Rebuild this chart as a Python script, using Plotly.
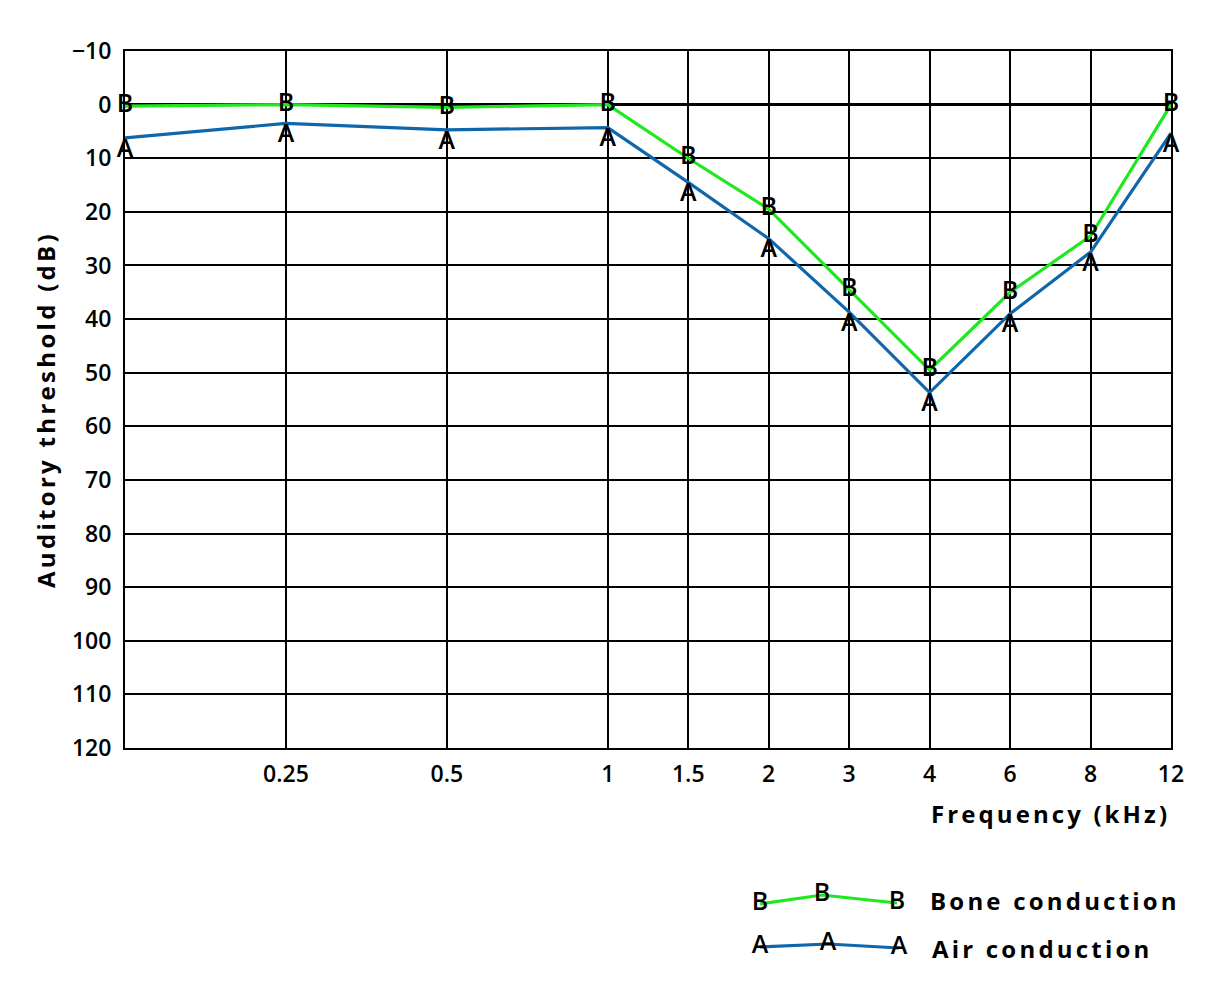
import plotly.graph_objects as go

# ---- data ----
freq_labels = ["0.125", "0.25", "0.5", "1", "1.5", "2", "3", "4", "6", "8", "12"]
freq_pos = [0, 2, 4, 6, 7, 8, 9, 10, 11, 12, 13]
tick_text = ["0.25", "0.5", "1", "1.5", "2", "3", "4", "6", "8", "12"]
tick_pos = [2, 4, 6, 7, 8, 9, 10, 11, 12, 13]
y_tick_vals = [-10, 0, 10, 20, 30, 40, 50, 60, 70, 80, 90, 100, 110, 120]
bone_db = [0.3, 0, 0.5, 0, 10, 19.5, 34.5, 49.5, 35, 24.5, 0]
air_db = [6.2, 3.5, 4.7, 4.3, 14.5, 25, 38.7, 53.7, 39, 27.5, 5.3]

# legend sample (legend axes in pixel-like units)
legend_x_bone = [760, 822, 897]
legend_y_bone = [904, 895, 903]
legend_x_air = [760, 828, 899]
legend_y_air = [947, 944, 948]

GREEN = "#1ee81e"
BLUE = "#0f66ab"
FONT = "Open Sans"


def tracked(s, px):
    return f'<span style="letter-spacing:{px}px">{s}</span>'


def letter_trace(x, y, letter, color, pos, xa, ya):
    return go.Scatter(
        x=x, y=y, mode="lines+text", text=[letter] * len(x),
        textposition=pos,
        textfont=dict(family=FONT, size=25, color="black", weight=600),
        line=dict(color=color, width=3.2), showlegend=False, cliponaxis=False,
        hoverinfo="skip", xaxis=xa, yaxis=ya)


fig = go.Figure()
fig.add_trace(letter_trace(freq_pos, air_db, "A", BLUE, "bottom center", "x", "y"))
fig.add_trace(letter_trace(freq_pos, bone_db, "B", GREEN, "middle center", "x", "y"))
fig.add_trace(letter_trace(legend_x_bone, legend_y_bone, "B", GREEN, "middle center", "x2", "y2"))
fig.add_trace(letter_trace(legend_x_air, legend_y_air, "A", BLUE, "middle center", "x2", "y2"))

W, H = 1221, 1000
x0, x1, y0, y1 = 125, 1171, 51, 748

y_tick_text = [str(v).replace("-", "\u2212") for v in y_tick_vals]
TXT = dict(family=FONT, size=24, color="black", weight=700)

fig.update_layout(
    template="none",
    width=W, height=H, autosize=False,
    margin=dict(l=0, r=0, t=0, b=0, pad=0, autoexpand=False),
    paper_bgcolor="white", plot_bgcolor="white",
    font=dict(family=FONT, size=23, color="black", weight=600),
    xaxis=dict(
        domain=[x0 / W, x1 / W], range=[0, 13], automargin=False,
        tickvals=tick_pos, ticktext=tick_text, ticks="",
        showgrid=True, gridcolor="black", gridwidth=2.2,
        showline=True, linecolor="black", linewidth=2, mirror=True,
        zeroline=False, ticklabelstandoff=4, fixedrange=True,
    ),
    yaxis=dict(
        domain=[1 - y1 / H, 1 - y0 / H], range=[120, -10], automargin=False,
        tickvals=y_tick_vals, ticktext=y_tick_text, ticks="",
        showgrid=True, gridcolor="black", gridwidth=1.7,
        showline=True, linecolor="black", linewidth=2, mirror=True,
        zeroline=True, zerolinecolor="black", zerolinewidth=3,
        ticklabelstandoff=7, fixedrange=True,
    ),
    xaxis2=dict(domain=[740 / W, 910 / W], range=[740, 910], visible=False,
                anchor="y2", automargin=False, fixedrange=True),
    yaxis2=dict(domain=[1 - 965 / H, 1 - 880 / H], range=[965, 880], visible=False,
                anchor="x2", automargin=False, fixedrange=True),
    annotations=[
        dict(text=tracked("Auditory threshold (dB)", 3.3), xref="paper", yref="paper",
             x=46 / W, y=1 - 410 / H, textangle=-90, showarrow=False,
             font=TXT, xanchor="center", yanchor="middle"),
        dict(text=tracked("Frequency (kHz)", 3.1), xref="paper", yref="paper",
             x=1050 / W, y=1 - 813 / H, showarrow=False,
             font=TXT, xanchor="center", yanchor="middle"),
        dict(text=tracked("Bone conduction", 3.2), xref="paper", yref="paper",
             x=1055 / W, y=1 - 900 / H, showarrow=False,
             font=TXT, xanchor="center", yanchor="middle"),
        dict(text=tracked("Air conduction", 3.2), xref="paper", yref="paper",
             x=1042 / W, y=1 - 948 / H, showarrow=False,
             font=TXT, xanchor="center", yanchor="middle"),
    ],
)

fig.write_html("out.html")
